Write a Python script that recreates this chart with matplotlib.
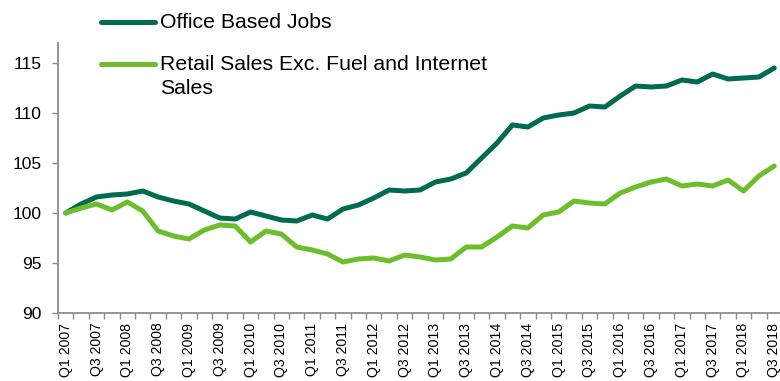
import matplotlib.pyplot as plt
from matplotlib.lines import Line2D
import numpy as np

plt.rcParams['font.family'] = ['Liberation Sans', 'DejaVu Sans']

# quarters Q1 2007 .. Q3 2018
quarters = ['Q%d %d' % (q, y) for y in range(2007, 2019) for q in (1, 2, 3, 4)][:47]

office = [100.0, 100.9, 101.6, 101.8, 101.9, 102.2, 101.6, 101.2, 100.9, 100.2,
          99.5, 99.4, 100.1, 99.7, 99.3, 99.2, 99.8, 99.4, 100.4, 100.8,
          101.5, 102.3, 102.2, 102.3, 103.1, 103.4, 104.0, 105.5, 107.0, 108.8,
          108.6, 109.5, 109.8, 110.0, 110.7, 110.6, 111.7, 112.7, 112.6, 112.7,
          113.3, 113.1, 113.9, 113.4, 113.5, 113.6, 114.5]
retail = [100.0, 100.5, 100.9, 100.3, 101.1, 100.2, 98.2, 97.7, 97.4, 98.3,
          98.8, 98.7, 97.1, 98.2, 97.9, 96.6, 96.3, 95.9, 95.1, 95.4,
          95.5, 95.2, 95.8, 95.6, 95.3, 95.4, 96.6, 96.6, 97.6, 98.7,
          98.5, 99.8, 100.1, 101.2, 101.0, 100.9, 102.0, 102.6, 103.1, 103.4,
          102.7, 102.9, 102.7, 103.3, 102.2, 103.7, 104.7]

dark = '#006B4F'
light = '#6CBE2D'
grey = '#8C8C8C'

W, H = 780, 381
fig = plt.figure(figsize=(W / 100, H / 100), dpi=100)
ax = fig.add_axes([58 / W, 1 - 313 / H, (782 - 58) / W, (313 - 43) / H])

x = np.arange(len(quarters))
ax.plot(x, office, color=dark, lw=3.6, solid_capstyle='round', solid_joinstyle='round')
ax.plot(x, retail, color=light, lw=3.6, solid_capstyle='round', solid_joinstyle='round')

ax.set_xlim(-0.5, len(quarters) - 0.5)
ax.set_ylim(90, 117)
ax.set_yticks([90, 95, 100, 105, 110, 115])
ax.tick_params(axis='y', direction='out', length=4, width=1, color=grey, pad=8, labelsize=12.5)

ax.set_xticks(x[::2])
ax.set_xticklabels(quarters[::2], rotation=90, fontsize=10.2)
ax.set_xticks(np.arange(len(quarters) + 1) - 0.5, minor=True)
ax.tick_params(axis='x', which='major', length=0, pad=7)
ax.tick_params(axis='x', which='minor', direction='out', length=4, width=1, color=grey)

for s in ['top', 'right']:
    ax.spines[s].set_visible(False)
for s in ['left', 'bottom']:
    ax.spines[s].set_color(grey)
    ax.spines[s].set_linewidth(1.3)

# legend drawn by hand (handle aligned with the first text line)
fig.add_artist(Line2D([101 / W, 155 / W], [1 - 22 / H, 1 - 22 / H], color=dark, lw=3.6,
                      solid_capstyle='round', transform=fig.transFigure))
fig.add_artist(Line2D([101 / W, 155 / W], [1 - 63.5 / H, 1 - 63.5 / H], color=light, lw=3.6,
                      solid_capstyle='round', transform=fig.transFigure))
fig.text(160 / W, 1 - 22 / H, 'Office Based Jobs', fontsize=15.3, va='center', ha='left')
fig.text(160 / W, 1 - 55 / H, 'Retail Sales Exc. Fuel and Internet\nSales', fontsize=15.3,
         va='top', ha='left', linespacing=1.3)

fig.savefig('out.png', dpi=100)
